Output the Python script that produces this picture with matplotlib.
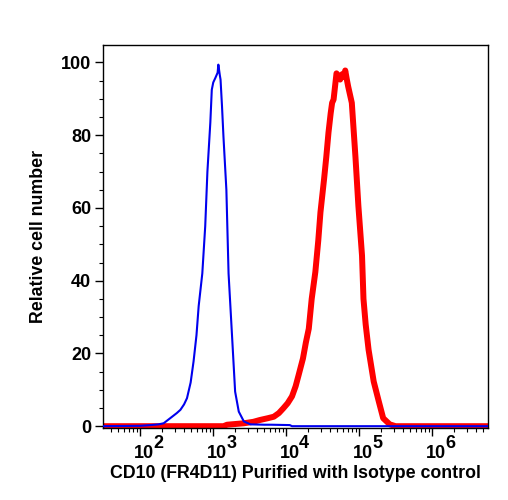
import numpy as np
import matplotlib
matplotlib.use("Agg")
import matplotlib.pyplot as plt
from matplotlib.ticker import LogLocator, MultipleLocator, NullFormatter, FixedLocator

plt.rcParams['font.family'] = ['Liberation Sans', 'DejaVu Sans']
plt.rcParams['font.weight'] = 'bold'

# isotype control (blue), log10 intensity vs relative count
iso_logx = [1.45, 2.00, 2.14, 2.25, 2.32, 2.41, 2.50, 2.55, 2.60, 2.64, 2.69, 2.73,
            2.77, 2.80, 2.85, 2.89, 2.92, 2.96, 2.98, 3.00, 3.03, 3.06, 3.07,
            3.09, 3.10, 3.12, 3.14, 3.18, 3.21, 3.26, 3.30, 3.35, 3.42, 3.51,
            3.70, 3.80, 4.05, 4.08, 6.80]
iso_y = [0.0, 0.1, 0.3, 0.5, 0.8, 2.2, 3.6, 4.5, 6.0, 7.7, 12.0, 17.8,
         25.0, 33.0, 42.0, 55.0, 70.0, 83.5, 92.5, 94.5, 95.8, 97.2, 99.4,
         96.5, 95.3, 88.0, 79.6, 65.0, 42.0, 24.0, 9.5, 4.0, 1.3, 0.5,
         0.4, 0.4, 0.3, 0.0, 0.0]

# CD10 (FR4D11) stained (red)
cd10_logx = [1.45, 3.14, 3.19, 3.42, 3.55, 3.64, 3.75, 3.83, 3.90, 3.96, 4.02,
             4.08, 4.13, 4.17, 4.23, 4.27, 4.31, 4.35, 4.40, 4.44, 4.47, 4.52,
             4.55, 4.58, 4.61, 4.63, 4.65, 4.67, 4.69, 4.71, 4.74, 4.77, 4.79,
             4.81, 4.83, 4.85, 4.90, 4.95, 4.99, 5.04, 5.06, 5.09, 5.13, 5.20,
             5.27, 5.33, 5.42, 5.50, 6.80]
cd10_y = [0.0, 0.0, 0.4, 0.8, 1.2, 1.7, 2.2, 2.6, 3.6, 4.9, 6.3,
          8.2, 11.0, 14.0, 18.6, 23.0, 26.8, 35.0, 42.4, 51.0, 58.8, 68.0,
          74.0, 80.7, 86.0, 88.9, 89.8, 93.4, 97.0, 96.5, 95.3, 96.8, 96.0,
          97.8, 95.5, 93.4, 88.9, 74.0, 60.6, 46.9, 35.0, 28.0, 21.0, 12.3,
          6.8, 2.2, 0.5, 0.0, 0.0]

decades = [2, 3, 4, 5, 6]
ytick_vals = [0, 20, 40, 60, 80, 100]

fig = plt.figure(figsize=(5.08, 5.0), dpi=100)
ax = fig.add_axes([0.203, 0.144, 0.758, 0.766])

ax.plot(10 ** np.array(cd10_logx), cd10_y, color='#ff0000', lw=4.3,
        solid_joinstyle='round', zorder=2)
ax.plot(10 ** np.array(iso_logx), iso_y, color='#0000ee', lw=1.5, zorder=3)

ax.set_xscale('log')
ax.set_xlim(10 ** 1.49, 10 ** 6.77)
ax.set_ylim(-0.5, 104.8)

ax.xaxis.set_major_locator(FixedLocator([10.0 ** d for d in decades]))
ax.xaxis.set_major_formatter(NullFormatter())
ax.xaxis.set_minor_locator(LogLocator(base=10, subs=np.arange(2, 10), numticks=20))
ax.xaxis.set_minor_formatter(NullFormatter())

# decade labels: full-size "10" with a large raised exponent
for d in decades:
    ax.annotate('10', xy=(10.0 ** d, 0), xycoords=('data', 'axes fraction'),
                xytext=(-6, -30), textcoords='offset pixels', ha='left',
                va='baseline', fontsize=13, fontweight='bold')
    ax.annotate(str(d), xy=(10.0 ** d, 0), xycoords=('data', 'axes fraction'),
                xytext=(13, -20), textcoords='offset pixels', ha='left',
                va='baseline', fontsize=13, fontweight='bold')

ax.set_yticks(ytick_vals)
ax.yaxis.set_minor_locator(MultipleLocator(5))

ax.tick_params(axis='both', which='major', direction='out', length=5.5, width=1,
               labelsize=13, pad=3)
ax.tick_params(axis='both', which='minor', direction='out', length=3, width=0.8)
ax.tick_params(top=False, right=False, which='both')
for s in ax.spines.values():
    s.set_linewidth(1.0)

ax.set_xlabel('CD10 (FR4D11) Purified with Isotype control', fontsize=12.8,
              fontweight='bold', labelpad=18)
ax.set_ylabel('Relative cell number', fontsize=12.8, fontweight='bold', labelpad=10)

fig.savefig('out.png', dpi=100)
